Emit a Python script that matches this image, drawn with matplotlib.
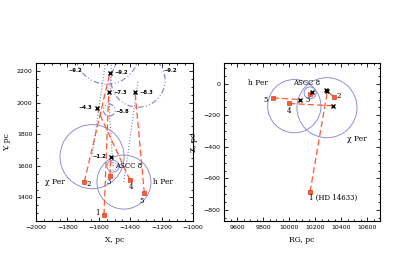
import numpy as np
import matplotlib
matplotlib.use("Agg")
import matplotlib.pyplot as plt
from matplotlib.patches import Ellipse
from matplotlib.ticker import MultipleLocator

RED = '#ff5a30'
BLUE = '#7f7fd0'

# ---- left panel: X, Y (pc) ----
star_x = [-1567, -1692, -1529, -1401, -1310]
star_y = [1288, 1499, 1537, 1509, 1425]
star_lab = ['1', '2', '3', '4', '5']
# past positions (X marks) paired with stars 1..5
past_x = [-1537, -1529, -1522, -1613, -1369]
past_y = [2065, 2189, 1657, 1967, 2065]
past_lab = ['-7.3', '-9.2', '-1.2', '-4.3', '-8.3']

# clusters: now and in the past
cl_names = ['χ Per', 'h Per', 'ASCC 8']
cl_now_x = [-1643, -1440, -1510]
cl_now_y = [1658, 1497, 1598]
cl_rad = [204, 172, 38]
cl_past_x = [-1548, -1350, -1533]
cl_past_y = [2320, 2142, 1953]
cl_past_lab = ['-9.2', '-9.2', '-5.8']

# ---- right panel: RG, Z (pc) ----
rg_star = [10162, 10346, 10162, 10000, 9875]
z_star = [-685, -83, -68, -125, -90]
rg_lab = ['1 (HD 14633)', '2', '3', '4', '5']
rg_past = [10296, 10281, 10175, 10341, 10085]
z_past = [-44, -41, -52, -140, -100]
rg_cl = [10292, 10041, 10162]
z_cl = [-152, -142, -58]
rg_cl_rad = [231, 205, 46]


def circle(ax, xc, yc, r, **kw):
    # radius given in x units, keep it round on screen
    x0, x1 = ax.get_xlim()
    y0, y1 = ax.get_ylim()
    bb = ax.get_position()
    fw, fh = ax.figure.get_size_inches()
    sx = (x1 - x0) / (bb.width * fw)
    sy = (y1 - y0) / (bb.height * fh)
    ax.add_patch(Ellipse((xc, yc), 2 * r, 2 * r * sy / sx, fill=False, **kw))


def style(ax, major, minor):
    ax.xaxis.set_major_locator(MultipleLocator(major[0]))
    ax.xaxis.set_minor_locator(MultipleLocator(minor[0]))
    ax.yaxis.set_major_locator(MultipleLocator(major[1]))
    ax.yaxis.set_minor_locator(MultipleLocator(minor[1]))
    ax.tick_params(which='both', direction='in', top=True, right=True,
                   labelsize=4.5, width=0.6, pad=2.5)
    ax.tick_params(which='major', length=3)
    ax.tick_params(which='minor', length=1.5)
    for s in ax.spines.values():
        s.set_linewidth(0.8)


fig = plt.figure(figsize=(4, 2.76), dpi=100)
ax1 = fig.add_axes([0.09, 0.199, 0.3925, 0.572])
ax2 = fig.add_axes([0.56, 0.199, 0.39, 0.572])

ax1.set_xlim(-2000, -1000)
ax1.set_ylim(1250, 2250)
ax2.set_xlim(9500, 10700)
ax2.set_ylim(-870, 130)

# left panel
for i in range(3):
    circle(ax1, cl_now_x[i], cl_now_y[i], cl_rad[i], ec=BLUE, lw=0.6)
    circle(ax1, cl_past_x[i], cl_past_y[i], cl_rad[i], ec=BLUE, lw=0.8,
           ls=(0, (5, 2, 1, 2, 1, 2)))
    ax1.plot([cl_now_x[i], cl_past_x[i]], [cl_now_y[i], cl_past_y[i]],
             ls=':', color=BLUE, lw=0.8)
circle(ax1, cl_now_x[2], cl_now_y[2], 25, ec=BLUE, lw=0.6, ls=':')
# ASCC 8 path goes on upward
ax1.plot([cl_past_x[2], -1520], [cl_past_y[2], 2250], ls=':', color=BLUE, lw=0.8)

for i in range(5):
    ax1.plot([star_x[i], past_x[i]], [star_y[i], past_y[i]], ls=(0, (5, 2.5)),
             color=RED, lw=0.9)
ax1.plot(star_x, star_y, 's', ms=2.5, color=RED, mec='#cc2200', mew=0.4)
ax1.plot(past_x, past_y, 'x', ms=3.5, color='black', mew=1.0)

star_off = [(-40, 12), (30, -15), (-5, -40), (5, -45), (-20, -45)]
for i in range(5):
    ax1.text(star_x[i] + star_off[i][0], star_y[i] + star_off[i][1], star_lab[i],
             fontsize=5, ha='center', va='center', family='DejaVu Serif')
for i in range(5):
    if past_lab[i] in ('-4.3', '-1.2'):
        ax1.text(past_x[i] - 30, past_y[i], past_lab[i].replace('-', '−'),
                 fontsize=3.8, ha='right', va='center', weight='bold')
    else:
        ax1.text(past_x[i] + 30, past_y[i], past_lab[i].replace('-', '−'),
                 fontsize=3.8, ha='left', va='center', weight='bold')
ax1.text(-1752, 2206, '−9.2', fontsize=3.8, ha='center', va='center', weight='bold')
ax1.text(-1142, 2206, '−9.2', fontsize=3.8, ha='center', va='center', weight='bold')
ax1.text(-1452, 1946, '−5.8', fontsize=3.8, ha='center', va='center', weight='bold')

ax1.text(-1879, 1497, cl_names[0], fontsize=5.5, ha='center', va='center', family='DejaVu Serif')
ax1.text(-1191, 1497, cl_names[1], fontsize=5.5, ha='center', va='center', family='DejaVu Serif')
ax1.text(-1408, 1598, cl_names[2], fontsize=5, ha='center', va='center', family='DejaVu Serif')

style(ax1, (200, 200), (50, 50))
ax1.set_xlabel('X, pc', fontsize=5.5, family='DejaVu Serif', labelpad=5)
ax1.set_ylabel('Y, pc', fontsize=5.5, family='DejaVu Serif', labelpad=4)

# right panel
for i in range(3):
    circle(ax2, rg_cl[i], z_cl[i], rg_cl_rad[i], ec=BLUE, lw=0.6)
for i in range(5):
    ax2.plot([rg_star[i], rg_past[i]], [z_star[i], z_past[i]], ls=(0, (5, 2.5)),
             color=RED, lw=0.9)
ax2.plot(rg_star, z_star, 's', ms=2.5, color=RED, mec='#cc2200', mew=0.4)
ax2.plot(rg_past, z_past, 'x', ms=3.5, color='black', mew=1.0)

rg_off = [(-10, -35), (40, 5), (-20, -35), (0, -45), (-55, -10)]
for i in range(5):
    ha = 'left' if i == 0 else 'center'
    ax2.text(rg_star[i] + rg_off[i][0], z_star[i] + rg_off[i][1], rg_lab[i],
             fontsize=5, ha=ha, va='center', family='DejaVu Serif')
ax2.text(9762, 3, 'h Per', fontsize=5.5, ha='center', va='center', family='DejaVu Serif')
ax2.text(10138, 3, 'ASCC 8', fontsize=5, ha='center', va='center', family='DejaVu Serif')
ax2.text(10521, -347, 'χ Per', fontsize=5.5, ha='center', va='center', family='DejaVu Serif')

style(ax2, (200, 200), (50, 50))
ax2.set_xlabel('RG, pc', fontsize=5.5, family='DejaVu Serif', labelpad=5)
ax2.set_ylabel('Z, pc', fontsize=5.5, family='DejaVu Serif', labelpad=4)

fig.savefig('out.png', dpi=100)
